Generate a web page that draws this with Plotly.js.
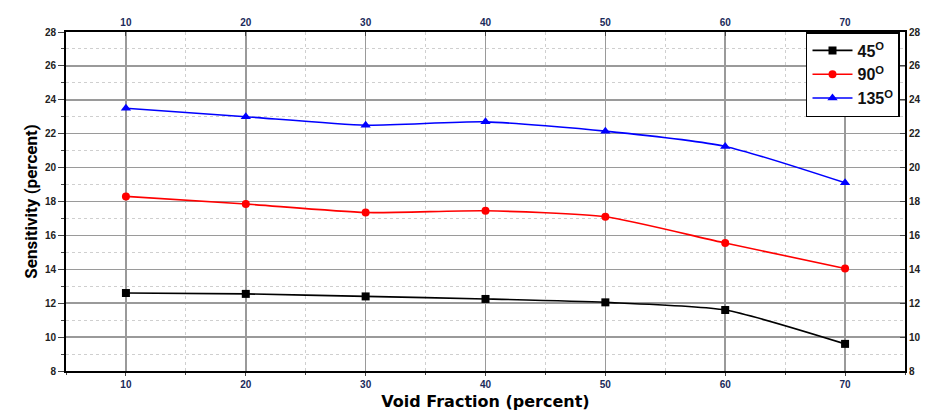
<!DOCTYPE html>
<html><head><meta charset="utf-8">
<script src="https://cdn.plot.ly/plotly-3.0.1.min.js"></script>
<style>body{margin:0;background:#fff}#c{width:925px;height:415px}</style>
</head><body><div id="c"></div>
<script>
const voidFraction = [10, 20, 30, 40, 50, 60, 70];
const s45 = [12.6, 12.55, 12.4, 12.25, 12.05, 11.6, 9.6];
const s90 = [18.3, 17.85, 17.35, 17.45, 17.1, 15.55, 14.05];
const s135 = [23.5, 23.0, 22.5, 22.7, 22.15, 21.25, 19.1];
const seriesNames = ['45<sup>O</sup>', '90<sup>O</sup>', '135<sup>O</sup>'];
const yTicks = [8, 10, 12, 14, 16, 18, 20, 22, 24, 26, 28];

const mk = (y, name, color, sym, size) => ({
  x: voidFraction, y: y, name: name, type: 'scatter', mode: 'lines+markers',
  line: {color: color, width: 1.6, shape: 'spline', smoothing: 0.6},
  marker: {color: color, symbol: sym, size: size}
});
const data = [
  mk(s45, seriesNames[0], '#000000', 'square', 8),
  mk(s90, seriesNames[1], '#ff0000', 'circle', 8),
  mk(s135, seriesNames[2], '#0000ff', 'triangle-up', 9),
  {x: voidFraction, y: s45, xaxis: 'x2', yaxis: 'y2', mode: 'markers',
   marker: {opacity: 0}, showlegend: false, hoverinfo: 'skip'}
];
const tf = (c) => ({family: 'Arial, Liberation Sans', size: 10, color: c, weight: 'bold'});
const common = {
  showline: true, linecolor: '#000', linewidth: 2, mirror: false, zeroline: false
};
const layout = {
  width: 925, height: 415,
  margin: {l: 66, r: 20, t: 32, b: 44},
  paper_bgcolor: '#fff', plot_bgcolor: '#fff',
  showlegend: true,
  legend: {x: 0.882, y: 1, xanchor: 'left', yanchor: 'top',
    bordercolor: '#000', borderwidth: 1.5, bgcolor: '#fff',
    font: {family: 'Arial, Liberation Sans', size: 16, color: '#111', weight: 'bold'},
    tracegroupgap: 2, itemwidth: 40},
  xaxis: Object.assign({}, common, {
    range: [5, 75], tickvals: voidFraction, ticks: 'outside', ticklen: 3,
    showgrid: true, gridcolor: '#9a9a9a', gridwidth: 1.5,
    minor: {dtick: 5, tick0: 5, showgrid: true, gridcolor: '#cfcfcf', griddash: 'dot', gridwidth: 1, ticks: 'outside', ticklen: 2},
    title: {text: '<b>Void Fraction (percent)</b>', font: {family: 'DejaVu Sans', size: 16, color: '#000'}, standoff: 7},
    tickfont: tf('#1a2a5a')
  }),
  yaxis: Object.assign({}, common, {
    range: [8, 28], tickvals: yTicks, ticks: 'outside', ticklen: 6,
    showgrid: true, gridcolor: '#9a9a9a', gridwidth: 1.5,
    minor: {dtick: 1, tick0: 8, showgrid: true, gridcolor: '#cfcfcf', griddash: 'dot', gridwidth: 1, ticks: 'outside', ticklen: 3},
    title: {text: '<b>Sensitivity (percent)</b>', font: {family: 'Liberation Sans Narrow, Arial Narrow, Roboto, Arial', size: 17, color: '#000'}, standoff: 3},
    tickfont: tf('#222')
  }),
  xaxis2: Object.assign({}, common, {
    overlaying: 'x', side: 'top', anchor: 'y2', range: [5, 75], tickvals: voidFraction,
    ticks: 'inside', ticklen: 4, showgrid: false, tickfont: tf('#1a2a5a')
  }),
  yaxis2: Object.assign({}, common, {
    overlaying: 'y', side: 'right', anchor: 'x2', range: [8, 28], tickvals: yTicks,
    ticks: 'inside', ticklen: 5, showgrid: false, tickfont: tf('#222')
  })
};
Plotly.newPlot('c', data, layout, {displayModeBar: false, staticPlot: true});
</script></body></html>
